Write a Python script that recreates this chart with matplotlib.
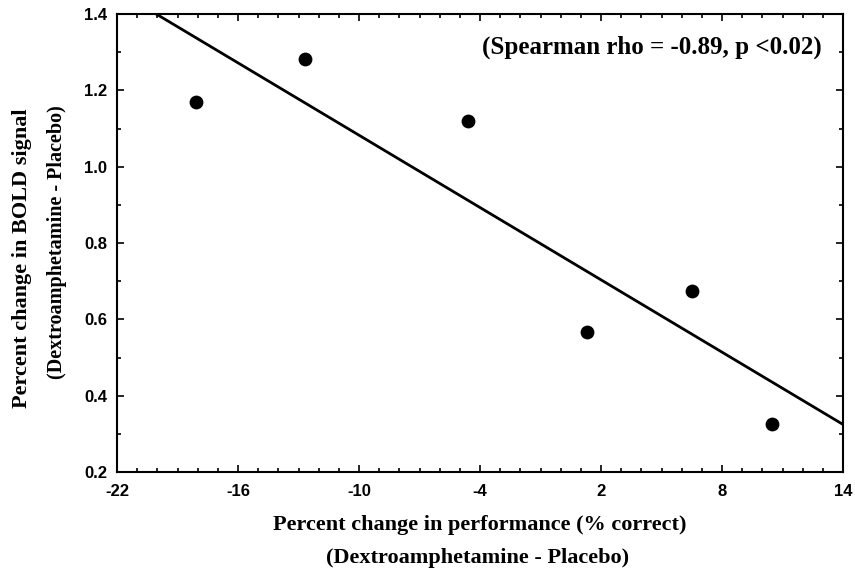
import numpy as np
import matplotlib
matplotlib.use("Agg")
import matplotlib.pyplot as plt
from matplotlib.ticker import MultipleLocator

# Data
perf_change = [-18.1, -12.7, -4.6, 1.3, 6.5, 10.5]
bold_change = [1.17, 1.283, 1.12, 0.567, 0.675, 0.325]
x_ticks = [-22, -16, -10, -4, 2, 8, 14]
y_ticks = [0.2, 0.4, 0.6, 0.8, 1.0, 1.2, 1.4]
annotation = "(Spearman rho = -0.89, p <0.02)"
xlabel_lines = ["Percent change in performance (% correct)", "(Dextroamphetamine - Placebo)"]
ylabel_lines = ["Percent change in BOLD signal", "(Dextroamphetamine - Placebo)"]

serif = ["Liberation Serif", "DejaVu Serif"]
sans = ["Liberation Sans", "DejaVu Sans"]

fig = plt.figure(figsize=(8.55, 5.76), dpi=100)
ax = fig.add_axes([117 / 855, 1 - 472 / 576, 726 / 855, 458 / 576])

ax.scatter(perf_change, bold_change, s=80, color="black", zorder=3)

slope, intercept = np.polyfit(perf_change, bold_change, 1)
xs = np.array([x_ticks[0], x_ticks[-1]])
ax.plot(xs, slope * xs + intercept, color="black", lw=2.0, zorder=2)

ax.set_xlim(x_ticks[0], x_ticks[-1])
ax.set_ylim(y_ticks[0], y_ticks[-1])
ax.set_xticks(x_ticks)
ax.set_yticks(y_ticks)
ax.set_xticklabels([str(v) for v in x_ticks])
ax.set_yticklabels([f"{v:.1f}" for v in y_ticks])
ax.xaxis.set_minor_locator(MultipleLocator(1))
ax.yaxis.set_minor_locator(MultipleLocator(0.1))
ax.tick_params(which="both", direction="in", top=True, right=True, width=1.2)
ax.tick_params(which="major", length=5)
ax.tick_params(axis="x", which="major", pad=9)
ax.tick_params(axis="y", which="major", pad=7)
ax.tick_params(which="minor", length=3)
for lab in ax.get_xticklabels() + ax.get_yticklabels():
    lab.set_family(sans)
    lab.set_fontweight("bold")
    lab.set_fontsize(12)
for sp in ax.spines.values():
    sp.set_linewidth(1.5)

ax.text(822 / 855, 1 - 47 / 576, annotation, transform=fig.transFigure, ha="right", va="center",
        family=serif, fontweight="bold", fontsize=18)

fig.text(480 / 855, 1 - 525 / 576, xlabel_lines[0], ha="center", va="center",
         family=serif, fontweight="bold", fontsize=16)
fig.text(478 / 855, 1 - 558 / 576, xlabel_lines[1], ha="center", va="center",
         family=serif, fontweight="bold", fontsize=16)
fig.text(22 / 855, 1 - 258 / 576, ylabel_lines[0], ha="center", va="center",
         rotation=90, family=serif, fontweight="bold", fontsize=16)
fig.text(57 / 855, 1 - 242 / 576, ylabel_lines[1], ha="center", va="center",
         rotation=90, family=serif, fontweight="bold", fontsize=14.5)

fig.savefig("out.png", dpi=100)
